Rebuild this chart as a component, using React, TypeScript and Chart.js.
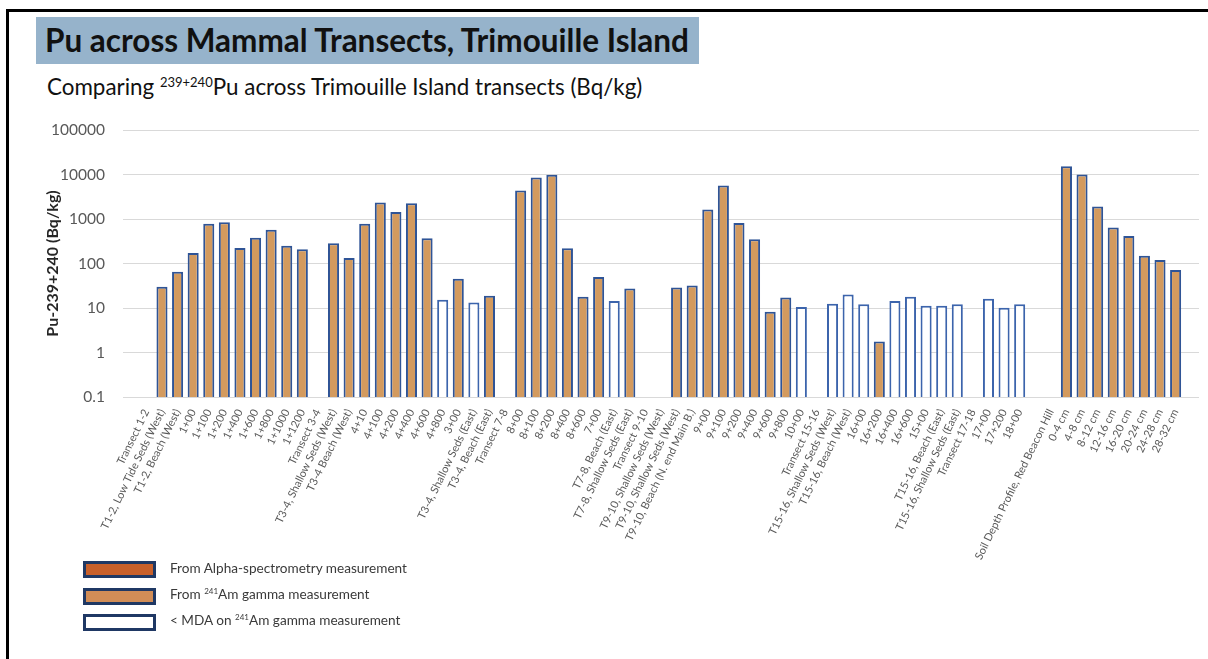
import React, { useEffect, useRef } from "react";
import { Chart, registerables } from "chart.js";

Chart.register(...registerables);

// ---- data ----
const categories: string[] = [
  "",
  "Transect 1-2",
  "T1-2, Low Tide Seds (West)",
  "T1-2, Beach (West)",
  "1+00",
  "1+100",
  "1+200",
  "1+400",
  "1+600",
  "1+800",
  "1+1000",
  "1+1200",
  "Transect 3-4",
  "T3-4, Shallow Seds (West)",
  "T3-4 Beach (West)",
  "4+10",
  "4+100",
  "4+200",
  "4+400",
  "4+600",
  "4+800",
  "3+00",
  "T3-4, Shallow Seds (East)",
  "T3-4, Beach (East)",
  "Transect 7-8",
  "8+00",
  "8+100",
  "8+200",
  "8+400",
  "8+600",
  "7+00",
  "T7-8, Beach (East)",
  "T7-8, Shallow Seds (East)",
  "Transect 9-10",
  "T9-10, Shallow Seds (West)",
  "T9-10, Shallow Seds (West)",
  "T9-10, Beach (N. end Main B.)",
  "9+00",
  "9+100",
  "9+200",
  "9+400",
  "9+600",
  "9+800",
  "10+00",
  "Transect 15-16",
  "T15-16, Shallow Seds (West)",
  "T15-16, Beach (West)",
  "16+00",
  "16+200",
  "16+400",
  "16+600",
  "15+00",
  "T15-16, Beach (East)",
  "T15-16, Shallow Seds (East)",
  "Transect 17-18",
  "17+00",
  "17+200",
  "18+00",
  "",
  "Soil Depth Profile, Red Beacon Hill",
  "0-4 cm",
  "4-8 cm",
  "8-12 cm",
  "12-16 cm",
  "16-20 cm",
  "20-24 cm",
  "24-28 cm",
  "28-32 cm",
  "",
];

const puValues: (number | null)[] = [
  null,
  null, 30, 65, 172, 780, 845, 222, 380, 570, 252, 208,
  null, 284, 133, 787, 2340, 1440, 2260, 368, 15.3, 45.5, 13.3, 18.8,
  null, 4370, 8550, 9840, 219, 17.9, 49.6, 14.3, 27.5,
  null, null, 29, 32, 1630, 5650, 815, 349, 8.2, 17.3, 10.5,
  null, 12.4, 20.1, 12.2, 1.76, 14.3, 17.9, 11.2, 11.2, 12.2,
  null, 16.1, 10.1, 12.2,
  null,
  null, 15400, 10000, 1900, 640, 416, 150, 120, 71,
  null,
];

// G = from 241Am gamma measurement, M = < MDA on 241Am gamma, "" = no bar
const measureType: string[] = [
  "",
  "", "G", "G", "G", "G", "G", "G", "G", "G", "G", "G",
  "", "G", "G", "G", "G", "G", "G", "G", "M", "G", "M", "G",
  "", "G", "G", "G", "G", "G", "G", "M", "G",
  "", "", "G", "G", "G", "G", "G", "G", "G", "G", "M",
  "", "M", "M", "M", "G", "M", "M", "M", "M", "M",
  "", "M", "M", "M",
  "",
  "", "G", "G", "G", "G", "G", "G", "G", "G",
  "",
];

const yTickValues: number[] = [0.1, 1, 10, 100, 1000, 10000, 100000];

const supStyle: React.CSSProperties = { fontSize: 8, verticalAlign: "5px", lineHeight: 0 };

const legendItems: { label: React.ReactNode; fill: string }[] = [
  { label: "From Alpha-spectrometry measurement", fill: "#C8602A" },
  {
    label: (
      <>
        From <sup style={supStyle}>241</sup>Am gamma measurement
      </>
    ),
    fill: "#D18D57",
  },
  {
    label: (
      <>
        &lt; MDA on <sup style={supStyle}>241</sup>Am gamma measurement
      </>
    ),
    fill: "#FFFFFF",
  },
];

const FONT = "Lato, 'Open Sans', sans-serif";

export default function App() {
  const canvasRef = useRef<HTMLCanvasElement | null>(null);

  useEffect(() => {
    if (!canvasRef.current) return;
    const bg = measureType.map((t) => (t === "M" ? "#FFFFFF" : "#D39A5E"));
    const bc = measureType.map((t) => (t === "M" ? "#3C64AC" : "#2F5496"));
    const chart = new Chart(canvasRef.current, {
      type: "bar",
      data: {
        labels: categories,
        datasets: [
          {
            data: puValues as any,
            backgroundColor: bg,
            borderColor: bc,
            borderWidth: 2,
            categoryPercentage: 1,
            barPercentage: 0.71,
          },
        ],
      },
      options: {
        animation: false,
        responsive: false,
        devicePixelRatio: 1,
        layout: { padding: { left: 35, right: 9, top: 30, bottom: 0 } },
        plugins: {
          legend: { display: false },
          tooltip: { enabled: false },
          title: { display: false },
        },
        scales: {
          x: {
            type: "category",
            offset: true,
            grid: { display: false },
            border: { display: false },
            ticks: {
              autoSkip: false,
              maxRotation: 64,
              minRotation: 64,
              padding: 2,
              color: "#595959",
              font: { family: FONT, size: 11 },
            },
            afterFit: (s: any) => {
              s.height = 163;
            },
          },
          y: {
            type: "logarithmic",
            min: 0.1,
            max: 100000,
            afterBuildTicks: (s: any) => {
              s.ticks = yTickValues.map((v) => ({ value: v }));
            },
            afterFit: (s: any) => {
              s.width = 88;
            },
            grid: { color: "#D9D9D9", lineWidth: 1, drawTicks: false },
            border: { display: false },
            ticks: {
              padding: 18,
              color: "#595959",
              font: { family: FONT, size: 15.5 },
              callback: (v: any) => String(v),
            },
            title: {
              display: true,
              text: "Pu-239+240 (Bq/kg)",
              color: "#262626",
              font: { family: FONT, size: 16, weight: "bold" },
              padding: { top: 8, bottom: 0 },
            },
          },
        },
      },
    });
    return () => chart.destroy();
  }, []);

  return (
    <div
      style={{
        position: "absolute",
        left: 0,
        top: 0,
        width: 1208,
        height: 659,
        overflow: "hidden",
        background: "#FFFFFF",
        fontFamily: FONT,
      }}
    >
      <div
        style={{
          position: "absolute",
          left: 6,
          top: 9,
          width: 1400,
          height: 900,
          borderLeft: "3px solid #000",
          borderTop: "3px solid #000",
        }}
      />
      <div
        style={{
          position: "absolute",
          left: 36,
          top: 17,
          width: 663,
          height: 47,
          background: "#96B3CB",
        }}
      />
      <div
        style={{
          position: "absolute",
          left: 45,
          top: 20,
          fontSize: 31.5,
          fontWeight: 700,
          color: "#111",
          whiteSpace: "nowrap",
          lineHeight: "40px",
        }}
      >
        Pu across Mammal Transects, Trimouille Island
      </div>
      <div
        style={{
          position: "absolute",
          left: 47,
          top: 73,
          fontSize: 22.4,
          color: "#111",
          whiteSpace: "nowrap",
          lineHeight: "28px",
        }}
      >
        Comparing <sup style={{ fontSize: 13, verticalAlign: "8px", lineHeight: 0 }}>239+240</sup>Pu across
        Trimouille Island transects (Bq/kg)
      </div>
      <canvas
        ref={canvasRef}
        width={1208}
        height={460}
        style={{ position: "absolute", left: 0, top: 100, width: 1208, height: 460 }}
      />
      {legendItems.map((it, i) => (
        <React.Fragment key={i}>
          <div
            style={{
              position: "absolute",
              left: 83,
              top: 561 + i * 26.5,
              width: 73,
              height: 17,
              boxSizing: "border-box",
              border: "3px solid #1F3864",
              background: it.fill,
            }}
          />
          <div
            style={{
              position: "absolute",
              left: 170,
              top: 559 + i * 26,
              fontSize: 13.6,
              color: "#3A3A3A",
              whiteSpace: "nowrap",
              lineHeight: "18px",
            }}
          >
            {it.label}
          </div>
        </React.Fragment>
      ))}
    </div>
  );
}
